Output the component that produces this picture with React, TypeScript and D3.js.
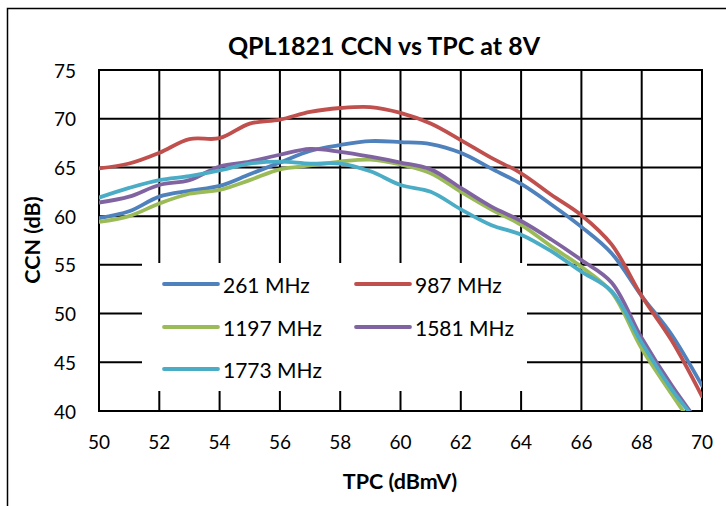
import React from "react";
import * as d3 from "d3";

const tpc = [50, 51, 52, 53, 54, 55, 56, 57, 58, 59, 60, 61, 62, 63, 64, 65, 66, 67, 68, 69, 70];
const s261 = [59.8, 60.5, 62.0, 62.6, 63.1, 64.3, 65.5, 66.7, 67.3, 67.7, 67.6, 67.4, 66.5, 64.9, 63.3, 61.2, 58.9, 56.2, 51.8, 47.8, 42.6];
const s987 = [64.9, 65.4, 66.5, 67.9, 68.0, 69.5, 69.9, 70.7, 71.1, 71.2, 70.6, 69.5, 67.8, 66.0, 64.4, 62.2, 60.1, 57.1, 51.8, 47.2, 41.5];
const s1197 = [59.4, 60.0, 61.3, 62.3, 62.7, 63.7, 64.8, 65.2, 65.6, 65.8, 65.3, 64.4, 62.5, 60.7, 59.1, 56.9, 54.8, 52.2, 46.4, 41.7, 37.2];
const s1581 = [61.4, 62.0, 63.2, 63.7, 65.1, 65.6, 66.3, 66.9, 66.6, 66.1, 65.5, 64.8, 62.9, 61.0, 59.5, 57.6, 55.5, 53.2, 47.5, 42.6, 38.3];
const s1773 = [61.9, 62.9, 63.7, 64.1, 64.7, 65.4, 65.6, 65.4, 65.4, 64.6, 63.2, 62.5, 60.7, 59.1, 58.1, 56.4, 54.3, 52.3, 47.0, 42.2, 38.3];

const seriesNames = ["261 MHz", "987 MHz", "1197 MHz", "1581 MHz", "1773 MHz"];
const seriesValues = [s261, s987, s1197, s1581, s1773];
const seriesColors = ["#4F81BD", "#C0504D", "#9BBB59", "#8064A2", "#4BACC6"];

const xTicks = [50, 52, 54, 56, 58, 60, 62, 64, 66, 68, 70];
const yTicks = [40, 45, 50, 55, 60, 65, 70, 75];

const chartTitle = "QPL1821 CCN vs TPC at 8V";
const xTitle = "TPC (dBmV)";
const yTitle = "CCN (dB)";

export default function App() {
  const W = 726;
  const H = 506;
  const left = 99;
  const right = 702;
  const top = 70;
  const bottom = 411;
  const x = d3.scaleLinear().domain([50, 70]).range([left, right]);
  const y = d3.scaleLinear().domain([40, 75]).range([bottom, top]);
  const font = "Lato, 'Open Sans', sans-serif";

  const line = d3
    .line<number>()
    .x((_, i) => x(tpc[i]))
    .y((d) => y(d))
    .curve(d3.curveCatmullRom.alpha(0.5));

  const legendItems = [
    { idx: 0, lx: 164, ly: 284 },
    { idx: 1, lx: 356, ly: 284 },
    { idx: 2, lx: 164, ly: 327 },
    { idx: 3, lx: 356, ly: 327 },
    { idx: 4, lx: 164, ly: 369 },
  ];

  return (
    <svg width={W} height={H} style={{ position: "absolute", left: 0, top: 0, background: "#fff" }}>
      <rect x={0} y={0} width={W} height={H} fill="#fff" />
      <rect x={7.5} y={8.5} width={740} height={520} fill="#fff" stroke="#000" strokeWidth={1.5} />
      <defs>
        <clipPath id="plotClip">
          <rect x={left} y={top} width={right - left} height={bottom - top} />
        </clipPath>
      </defs>
      {xTicks.map((t) => (
        <line key={"gx" + t} x1={x(t)} x2={x(t)} y1={top} y2={bottom} stroke="#000" strokeWidth={2} />
      ))}
      {yTicks.map((t) => (
        <line key={"gy" + t} x1={left} x2={right} y1={y(t)} y2={y(t)} stroke="#000" strokeWidth={2} />
      ))}
      <rect x={left} y={top} width={right - left} height={bottom - top} fill="none" stroke="#000" strokeWidth={2} />
      <g clipPath="url(#plotClip)">
        {seriesValues.map((vals, i) => (
          <path key={i} d={line(vals) || ""} fill="none" stroke={seriesColors[i]} strokeWidth={3.8} strokeLinecap="round" strokeLinejoin="round" />
        ))}
      </g>
      {/* legend */}
      <rect x={142} y={263} width={385} height={128} fill="#fff" />
      {legendItems.map((it) => (
        <g key={it.idx}>
          <line x1={it.lx} x2={it.lx + 54} y1={it.ly} y2={it.ly} stroke={seriesColors[it.idx]} strokeWidth={3.8} strokeLinecap="round" />
          <text x={it.lx + 59} y={it.ly} dominantBaseline="central" fontFamily={font} fontSize={21} fill="#000">
            {seriesNames[it.idx]}
          </text>
        </g>
      ))}
      {/* tick labels */}
      {xTicks.map((t) => (
        <text key={"tx" + t} x={x(t)} y={441} textAnchor="middle" dominantBaseline="central" fontFamily={font} fontSize={19} fill="#000">
          {t}
        </text>
      ))}
      {yTicks.map((t) => (
        <text key={"ty" + t} x={76} y={y(t)} textAnchor="end" dominantBaseline="central" fontFamily={font} fontSize={19} fill="#000">
          {t}
        </text>
      ))}
      <text x={384} y={45} textAnchor="middle" dominantBaseline="central" fontFamily={font} fontWeight="bold" fontSize={25} fill="#000">
        {chartTitle}
      </text>
      <text x={400} y={481} textAnchor="middle" dominantBaseline="central" fontFamily={font} fontWeight="bold" fontSize={21.5} fill="#000">
        {xTitle}
      </text>
      <text transform="translate(32,240) rotate(-90)" textAnchor="middle" dominantBaseline="central" fontFamily={font} fontWeight="bold" fontSize={21.5} fill="#000">
        {yTitle}
      </text>
    </svg>
  );
}
